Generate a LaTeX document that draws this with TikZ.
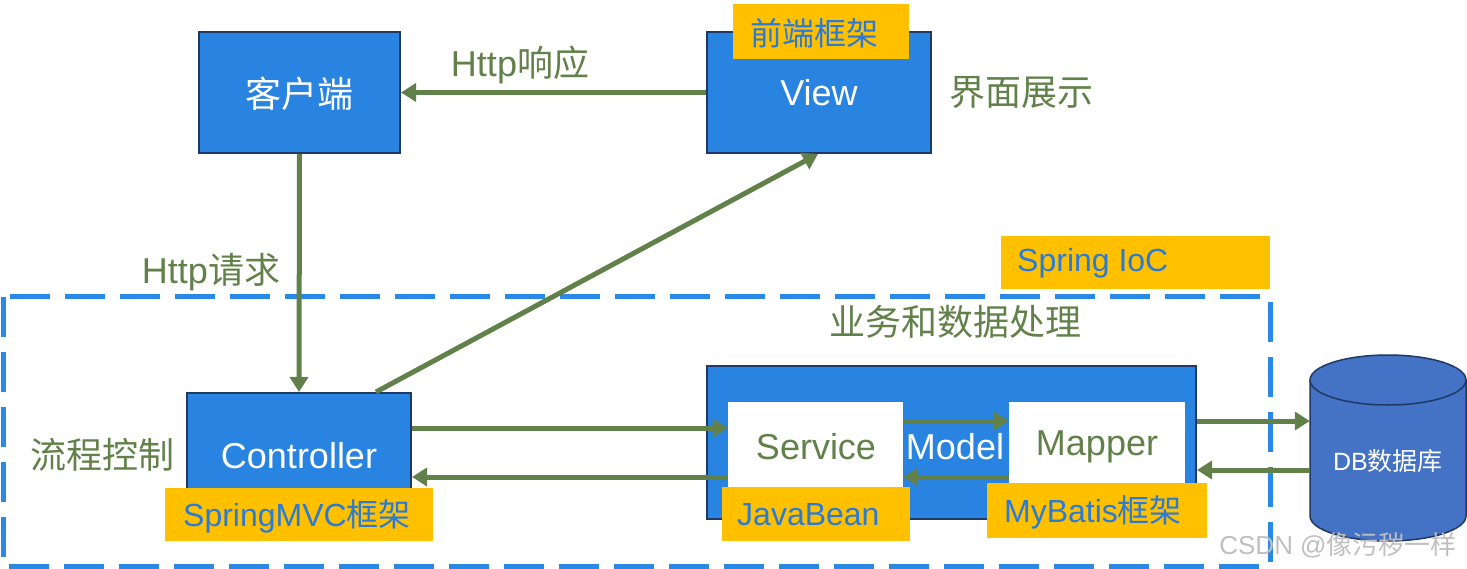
\documentclass[tikz,border=0pt]{standalone}
\usepackage{fontspec}
\setmainfont{Liberation Sans}
\newfontfamily\cjk{Noto Sans CJK SC}
\newcommand\zh[1]{{\cjk #1}}
\usetikzlibrary{arrows.meta}
\definecolor{boxblue}{HTML}{2884E0}
\definecolor{navy}{HTML}{1F3864}
\definecolor{grn}{HTML}{62814A}
\definecolor{org}{HTML}{FFC000}
\definecolor{lblblue}{HTML}{2B7BD6}
\definecolor{dashblue}{HTML}{2A88E6}
\definecolor{cylblue}{HTML}{4472C4}
\begin{document}
\begin{tikzpicture}[x=1pt,y=-1pt,
  box/.style={draw=navy, line width=2pt, fill=boxblue, inner sep=0pt},
  wbox/.style={fill=white, inner sep=0pt},
  bigtxt/.style={font=\fontsize{36}{40}\selectfont, inner sep=0pt},
  wtxt/.style={bigtxt, text=white},
  gtxt/.style={bigtxt, text=grn},
  lblbox/.style={fill=org, inner sep=0pt, anchor=north west},
  lbltxt/.style={font=\fontsize{32}{36}\selectfont, text=lblblue, inner sep=0pt},
  arr/.style={draw=grn, line width=5pt, -{Triangle[length=15pt,width=18pt]}},
]
\useasboundingbox (0,0) rectangle (1467,569);

% dashed region
\draw[dashblue, line width=5pt, dash pattern=on 40pt off 15pt] (3,297) rectangle (1270,566);

% top boxes
\node[box, minimum width=201pt, minimum height=121pt] (client) at (299.5,92.5) {};
\node[wtxt] (clientt) at (299.5,94) {\zh{客户端}};
\node[box, minimum width=224pt, minimum height=121pt] (view) at (819,92.5) {};
\node[wtxt] (viewt) at (819,93) {View};
\node[lblbox, minimum width=176pt, minimum height=55pt] (fe) at (733,4) {};
\node[lbltxt] (fet) at (814,33) {\zh{前端框架}};

\node[gtxt] (resp) at (520,65) {Http\zh{响应}};
\node[gtxt] (ui) at (1021,93) {\zh{界面展示}};
\node[gtxt] (req) at (211,272) {Http\zh{请求}};
\node[gtxt] (biz) at (955,322) {\zh{业务和数据处理}};
\node[gtxt] (flow) at (102,455) {\zh{流程控制}};

% spring ioc
\node[lblbox, minimum width=269pt, minimum height=53pt] (ioc) at (1001,236) {};
\node[lbltxt, anchor=west] (ioct) at (1017,263) {Spring IoC};

% controller
\node[box, minimum width=224pt, minimum height=117pt] (ctrl) at (299,451.5) {};
\node[wtxt] (ctrlt) at (299,456) {Controller};
\node[lblbox, minimum width=268pt, minimum height=53pt] (mvc) at (165,488) {};
\node[lbltxt] (mvct) at (297,516) {SpringMVC\zh{框架}};

% business box
\node[box, minimum width=489pt, minimum height=153pt] (biz box) at (951.5,442.5) {};
\node[wbox, minimum width=175pt, minimum height=116pt] (svc) at (815.5,460) {};
\node[gtxt] (svct) at (816,447) {Service};
\node[wbox, minimum width=176pt, minimum height=100pt] (map) at (1097,452) {};
\node[gtxt] (mapt) at (1097,447) {Mapper};
\node[wtxt] (model) at (955,447) {Model};
\node[lblbox, minimum width=188pt, minimum height=54pt] (jb) at (722,487) {};
\node[lbltxt, anchor=west] (jbt) at (737,515) {JavaBean};
\node[lblbox, minimum width=220pt, minimum height=55pt] (mb) at (987,483) {};
\node[lbltxt] (mbt) at (1093,512) {MyBatis\zh{框架}};

% database cylinder
\node[minimum width=156pt, minimum height=186pt, inner sep=0pt] (db) at (1388,448) {};
\filldraw[fill=cylblue, draw=navy, line width=1.5pt]
  (1310,380) -- (1310,516) arc[start angle=180,end angle=0,x radius=78,y radius=25]
  -- (1466,380) arc[start angle=0,end angle=-180,x radius=78,y radius=25] -- cycle;
\draw[navy, line width=1.5pt] (1310,380) arc[start angle=180,end angle=0,x radius=78,y radius=25];
\node[font=\fontsize{25}{28}\selectfont, text=white, inner sep=0pt] (dbt) at (1388,461) {DB\zh{数据库}};

% watermark
\node[font=\fontsize{26}{28}\selectfont, text=black!25, inner sep=0pt] (wm) at (1338,545) {CSDN @\zh{像污秽一样}};

% connectors
\draw[arr] (view.west) -- (client.east);
\draw[arr] (client.south) -- (ctrl.north);
\draw[arr] ([xshift=77pt]ctrl.north) -- ([xshift=-1pt]view.south);
\draw[arr] (ctrl.east |- 0,428) -- (svc.west |- 0,428);
\draw[arr] (svc.west |- 0,477) -- (ctrl.east |- 0,477);
\draw[arr] (svc.east |- 0,421) -- (map.west |- 0,421);
\draw[arr] (map.west |- 0,477) -- (svc.east |- 0,477);
\draw[arr] (biz box.east |- 0,421) -- (db.west |- 0,421);
\draw[arr] (db.west |- 0,470) -- (biz box.east |- 0,470);
\end{tikzpicture}
\end{document}
